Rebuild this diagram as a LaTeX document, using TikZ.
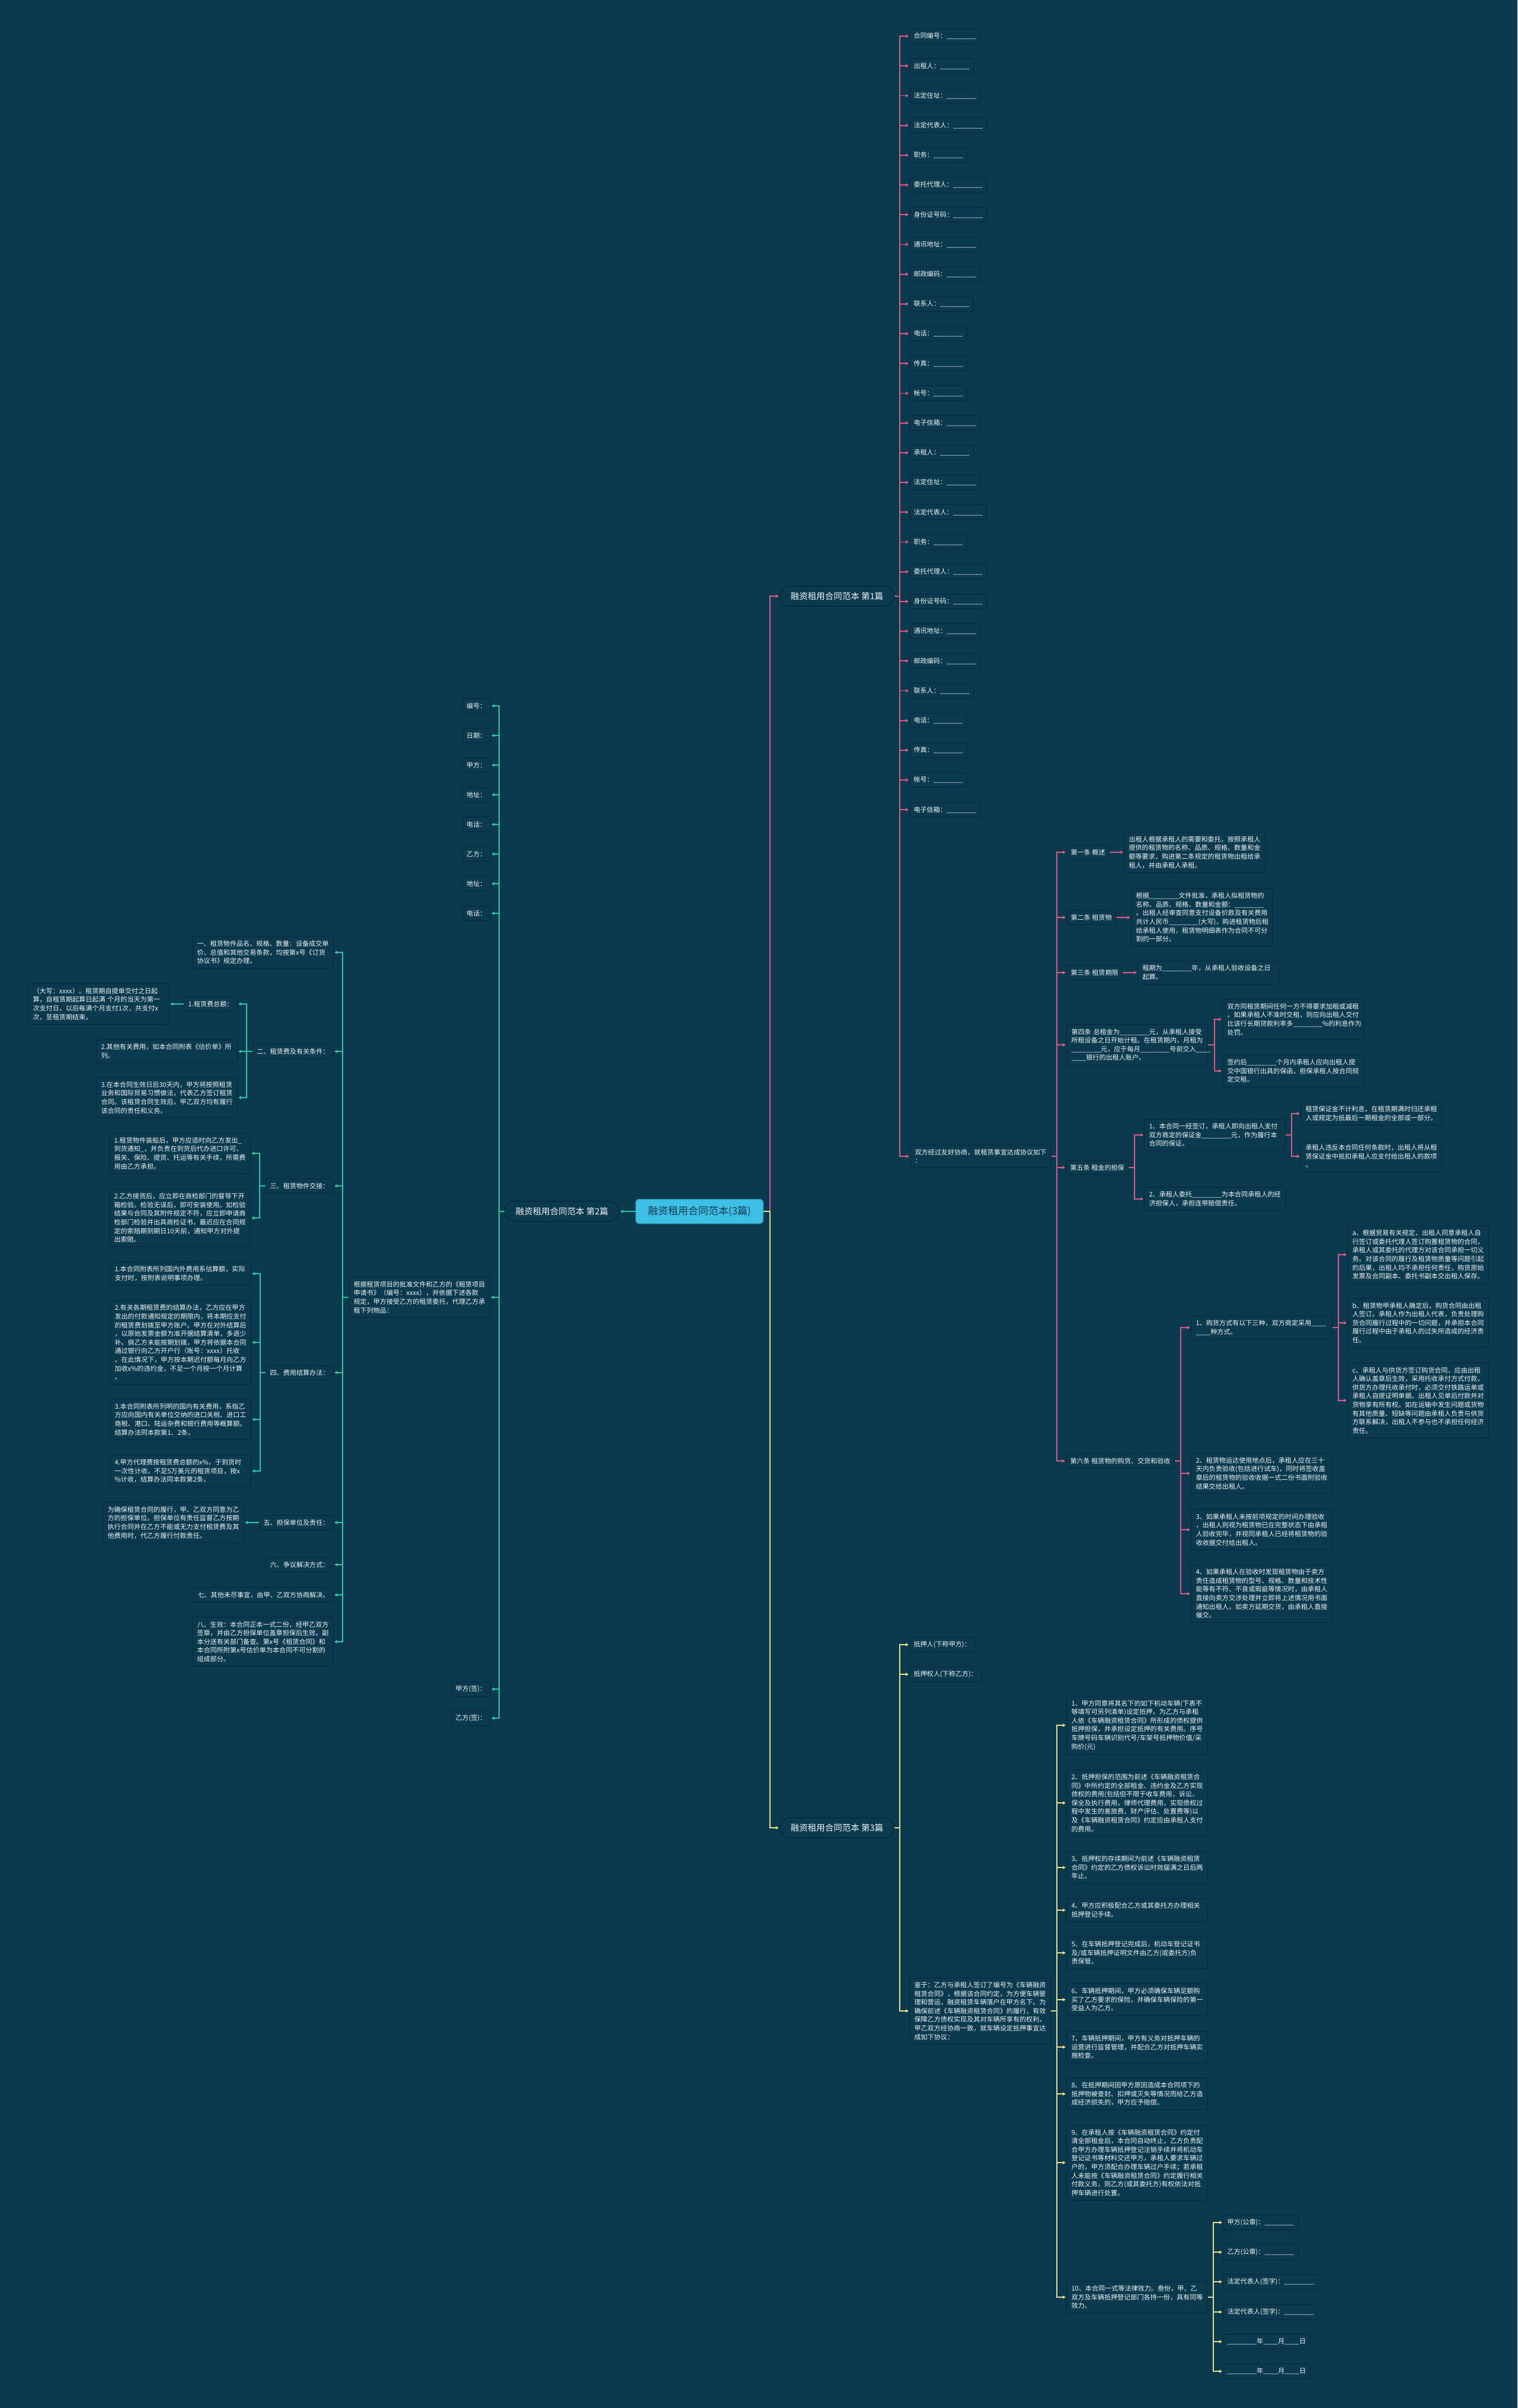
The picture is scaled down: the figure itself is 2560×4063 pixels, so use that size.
\documentclass[tikz,border=0pt]{standalone}
\usepackage{fontspec}
\newfontfamily\cjk{Noto Sans CJK SC}
\usepackage{tikz}
\usetikzlibrary{arrows.meta}

\definecolor{bg}{HTML}{0B3A4E}
\definecolor{nodeline}{HTML}{06283A}
\definecolor{txt}{HTML}{F2F5F6}
\definecolor{pinkc}{HTML}{DC5B86}
\definecolor{greenc}{HTML}{2DC7A2}
\definecolor{yellowc}{HTML}{EADF8C}
\definecolor{rootc}{HTML}{3DBFE6}

\newcommand\blankL{\_\_\_\_\_\_\_\_}
\newcommand\blankS{\_\_\_\_}

\tikzset{
  leaf/.style={draw=nodeline, fill=bg, rounded corners=3pt, line width=1pt, text=txt,
    font=\cjk\fontsize{11.1}{14.6}\selectfont, inner xsep=7pt, inner ysep=7pt, align=left},
  para/.style={leaf, inner xsep=8pt, text width=222pt},
  branch/.style={draw=nodeline, fill=bg, rounded corners=17pt, line width=1.5pt, text=txt,
    font=\cjk\fontsize{14.5}{17}\selectfont, minimum width=193pt, minimum height=34pt},
  rootnode/.style={draw=rootc!80!black, fill=rootc, rounded corners=6pt, line width=1.5pt, text=bg,
    font=\cjk\fontsize{17}{20}\selectfont, minimum width=215pt, minimum height=41pt},
  pk/.style={draw=pinkc, line width=1.8pt, ->, shorten >=1pt},
  gr/.style={draw=greenc, line width=1.8pt, ->, shorten >=1pt},
  yl/.style={draw=yellowc, line width=1.8pt, ->, shorten >=1pt}
}

\begin{document}
\begin{tikzpicture}[x=1pt,y=-1pt,>={Triangle[length=5pt,width=5pt]}]
\useasboundingbox (0,0) rectangle (2560,4063);
\fill[bg] (0,0) rectangle (2560,4063);

\node[rootnode] (root) at (1180,2044) {融资租用合同范本(3篇)};
\node[branch] (b1) at (1412,1006) {融资租用合同范本 第1篇};
\node[branch] (b2) at (948,2044) {融资租用合同范本 第2篇};
\node[branch] (b3) at (1412,3084) {融资租用合同范本 第3篇};
\draw[pk] (root.east) -- ++(11,0) |- (b1.west);
\draw[yl] (root.east) -- ++(11,0) |- (b3.west);
\draw[gr] (root.west) -- (b2.east);

% 第1篇
\foreach \lbl [count=\i] in {合同编号,出租人,法定住址,法定代表人,职务,委托代理人,身份证号码,通讯地址,邮政编码,联系人,电话,传真,帐号,电子信箱,承租人,法定住址,法定代表人,职务,委托代理人,身份证号码,通讯地址,邮政编码,联系人,电话,传真,帐号,电子信箱}{
  \node[leaf,anchor=west] (a\i) at (1534,{61+(\i-1)*50.2}) {\lbl：\blankL};
  \draw[pk] (b1.east) -- ++(9,0) |- (a\i.west);
}
\node[para,anchor=west] (agree) at (1535,1951) {双方经过友好协商，就租赁事宜达成协议如下\\：};
\draw[pk] (b1.east) -- ++(9,0) |- (agree.west);

\node[leaf,anchor=west] (s1) at (1799,1438) {第一条 概述};
\node[para,anchor=west] (s1t) at (1896,1438) {出租人根据承租人的需要和委托，按照承租人\\提供的租赁物的名称、品质、规格、数量和金\\额等要求，购进第二条规定的租赁物出租给承\\租人，并由承租人承租。};
\node[leaf,anchor=west] (s2) at (1799,1548) {第二条 租赁物};
\node[para,anchor=west] (s2t) at (1908,1548) {根据\blankL 文件批准，承租人拟租赁物的\\名称、品质、规格、数量和金额：\blankL\\。出租人经审查同意支付设备价款及有关费用\\共计人民币\blankL(大写)，购进租赁物后租\\给承租人使用，租赁物明细表作为合同不可分\\割的一部分。};
\node[leaf,anchor=west] (s3) at (1799,1641) {第三条 租赁期限};
\node[para,anchor=west] (s3t) at (1919,1641) {租期为\blankL 年，从承租人验收设备之日\\起算。};
\node[para,anchor=west] (s4) at (1799,1763) {第四条 总租金为\blankL 元，从承租人接受\\所租设备之日开始计租。在租赁期内，月租为\\\blankL 元，应于每月\blankL 号前交入\blankS\\\blankS 银行的出租人账户。};
\node[para,anchor=west] (s4a) at (2062,1720) {双方同租赁期间任何一方不得要求加租或减租\\。如果承租人不准时交租，则应向出租人交付\\比该行长期贷款利率多\blankL\%的利息作为\\处罚。};
\node[para,anchor=west] (s4b) at (2062,1807) {签约后\blankL 个月内承租人应向出租人提\\交中国银行出具的保函，担保承租人按合同规\\定交租。};
\node[leaf,anchor=west] (s5) at (1798,1970) {第五条 租金的担保};
\node[para,anchor=west] (s5a) at (1930,1915) {1、本合同一经签订，承租人即向出租人支付\\双方商定的保证金\blankL 元，作为履行本\\合同的保证。};
\node[para,anchor=west] (s5a1) at (2194,1879) {租赁保证金不计利息，在租赁期满时归还承租\\人或规定为抵最后一期租金的全部或一部分。};
\node[para,anchor=west] (s5a2) at (2194,1951) {承租人违反本合同任何条款时，出租人将从租\\赁保证金中抵扣承租人应支付给出租人的款项\\。};
\node[para,anchor=west] (s5b) at (1930,2023) {2、承租人委托\blankL 为本合同承租人的经\\济担保人，承担连带赔偿责任。};
\node[leaf,anchor=west] (s6) at (1798,2465) {第六条 租赁物的购货、交货和验收};
\node[para,anchor=west] (s6a) at (2009,2240) {1、购货方式有以下三种，双方商定采用\blankS\\\blankS 种方式。};
\node[para,anchor=west] (s6a1) at (2273,2117) {a、根据贸易有关规定，出租人同意承租人自\\行签订或委托代理人签订购置租赁物的合同，\\承租人或其委托的代理方对该合同承担一切义\\务。对该合同的履行及租赁物质量等问题引起\\的后果，出租人均不承担任何责任，购货原始\\发票及合同副本、委托书副本交出租人保存。};
\node[para,anchor=west] (s6a2) at (2273,2232) {b、租赁物甲承租人确定后，购货合同由出租\\人签订。承租人作为出租人代表，负责处理购\\货合同履行过程中的一切问题，并承担本合同\\履行过程中由于承租人的过失所造成的经济责\\任。};
\node[para,anchor=west] (s6a3) at (2273,2363) {c、承租人与供货方签订购货合同，应由出租\\人确认盖章后生效，采用托收承付方式付款，\\供货方办理托收承付时，必须交付铁路运单或\\承租人自提证明单据。出租人见单后付款并对\\货物享有所有权。如在运输中发生问题或货物\\有其他质量、短缺等问题由承租人负责与供货\\方联系解决，出租人不参与也不承担任何经济\\责任。};
\node[para,anchor=west] (s6b) at (2009,2486) {2、租赁物运达使用地点后，承租人应在三十\\天内负责验收(包括进行试车)，同时将签收盖\\章后的租赁物的验收收据一式二份书面附验收\\结果交给出租人。};
\node[para,anchor=west] (s6c) at (2009,2581) {3、如果承租人未按前项规定的时间办理验收\\，出租人则视为租赁物已在完整状态下由承租\\人验收完毕，并视同承租人已经将租赁物的验\\收收据交付给出租人。};
\node[para,anchor=west] (s6d) at (2009,2689) {4、如果承租人在验收时发现租赁物由于卖方\\责任造成租赁物的型号、规格、数量和技术性\\能等有不符、不良或瑕疵等情况时，由承租人\\直接向卖方交涉处理并立即将上述情况用书面\\通知出租人。如卖方延期交货，由承租人直接\\催交。};

\draw[pk] (s1.east) -- (s1t.west);
\draw[pk] (s2.east) -- (s2t.west);
\draw[pk] (s3.east) -- (s3t.west);
\foreach \n in {s1,s2,s3,s4,s5,s6}
  \draw[pk] (agree.east) -- ++(9,0) |- (\n.west);
\foreach \n in {s4a,s4b}
  \draw[pk] (s4.east) -- ++(11,0) |- (\n.west);
\foreach \n in {s5a,s5b}
  \draw[pk] (s5.east) -- ++(10,0) |- (\n.west);
\foreach \n in {s5a1,s5a2}
  \draw[pk] (s5a.east) -- ++(10,0) |- (\n.west);
\foreach \n in {s6a,s6b,s6c,s6d}
  \draw[pk] (s6.east) -- ++(10,0) |- (\n.west);
\foreach \n in {s6a1,s6a2,s6a3}
  \draw[pk] (s6a.east) -- ++(10,0) |- (\n.west);

% 第2篇
\foreach \lbl [count=\i] in {编号,日期,甲方,地址,电话,乙方,地址,电话}{
  \node[leaf,anchor=east] (m\i) at (828,{1191+(\i-1)*50}) {\lbl：};
  \draw[gr] (b2.west) -- ++(-9,0) |- (m\i.east);
}
\node[para,anchor=east] (basis) at (827,2189) {根据租赁项目的批准文件和乙方的《租赁项目\\申请书》（编号：xxxx），并依据下述各款\\规定，甲方接受乙方的租赁委托，代理乙方承\\租下列物品：};
\node[leaf,anchor=east] (signa) at (828,2850) {甲方(签)：};
\node[leaf,anchor=east] (signb) at (828,2899) {乙方(签)：};
\foreach \n in {basis,signa,signb}
  \draw[gr] (b2.west) -- ++(-9,0) |- (\n.east);

\node[para,anchor=east] (c1) at (563,1607) {一、租赁物件品名、规格、数量：设备成交单\\价、总值和其他交易条款，均按第x号《订货\\协议书》规定办理。};
\node[leaf,anchor=east] (c2) at (563,1774) {二、租赁费及有关条件：};
\node[leaf,anchor=east] (c2a) at (401,1694) {1.租赁费总额：};
\node[para,anchor=east] (c2a1) at (286,1694) {（大写：xxxx）。租赁期自提单交付之日起\\算，自租赁期起算日起满 个月的当天为第一\\次支付日，以后每满个月支付1次，共支付x\\次，至租赁期结束。};
\node[para,anchor=east] (c2b) at (401,1774) {2.其他有关费用，如本合同附表《估价单》所\\列。};
\node[para,anchor=east] (c2c) at (401,1852) {3.在本合同生效日后30天内，甲方将按照租赁\\业务和国际贸易习惯做法，代表乙方签订租赁\\合同。该租赁合同生效后，甲乙双方均有履行\\该合同的责任和义务。};
\node[leaf,anchor=east] (c3) at (563,2001) {三、租赁物件交接：};
\node[para,anchor=east] (c3a) at (423,1946) {1.租赁物件装船后，甲方应适时向乙方发出\_\\到货通知\_，并负责在到货后代办进口许可、\\报关、保险、提货、托运等有关手续，所需费\\用由乙方承担。};
\node[para,anchor=east] (c3b) at (423,2055) {2.乙方接货后，应立即在商检部门的督导下开\\箱检验。检验无误后，即可安装使用。如检验\\结果与合同及其附件规定不符，应立即申请商\\检部门检验并出具商检证书，最迟应在合同规\\定的索赔期到期日10天前，通知甲方对外提\\出索赔。};
\node[leaf,anchor=east] (c4) at (563,2316) {四、费用结算办法：};
\node[para,anchor=east] (c4a) at (424,2149) {1.本合同附表所列国内外费用系估算额，实际\\支付时，按附表说明事项办理。};
\node[para,anchor=east] (c4b) at (424,2265) {2.有关各期租赁费的结算办法，乙方应在甲方\\发出的付款通知规定的期限内，将本期应支付\\的租赁费划拨至甲方账户。甲方在对外结算后\\，以原始发票金额为准开据结算清单，多退少\\补。倘乙方未能按期划拨，甲方将依据本合同\\通过银行向乙方开户行（账号：xxxx）托收\\。在此情况下，甲方按本期迟付额每月向乙方\\加收x\%的违约金，不足一个月按一个月计算\\。};
\node[para,anchor=east] (c4c) at (424,2395) {3.本合同附表所列明的国内有关费用，系指乙\\方应向国内有关单位交纳的进口关税、进口工\\商税、港口、陆运杂费和银行费用等概算额。\\结算办法同本款第1、2条。};
\node[para,anchor=east] (c4d) at (424,2482) {4.甲方代理费按租赁费总额的x\%，于到货时\\一次性计收。不足5万美元的租赁项目，按x\\\%计收，结算办法同本款第2条。};
\node[leaf,anchor=east] (c5) at (563,2569) {五、担保单位及责任：};
\node[para,anchor=east] (c5a) at (412,2569) {为确保租赁合同的履行，甲、乙双方同意为乙\\方的担保单位。担保单位有责任监督乙方按期\\执行合同并在乙方不能或无力支付租赁费及其\\他费用时，代乙方履行付款责任。};
\node[leaf,anchor=east] (c6) at (563,2640) {六、争议解决方式：};
\node[leaf,anchor=east] (c7) at (563,2691) {七、其他未尽事宜，由甲、乙双方协商解决。};
\node[para,anchor=east] (c8) at (563,2770) {八、生效：本合同正本一式二份，经甲乙双方\\签章，并由乙方担保单位盖章担保后生效。副\\本分送有关部门备查。第x号《租赁合同》和\\本合同所附第x号估价单为本合同不可分割的\\组成部分。};

\foreach \n in {c1,c2,c3,c4,c5,c6,c7,c8}
  \draw[gr] (basis.west) -- ++(-10,0) |- (\n.east);
\foreach \n in {c2a,c2b,c2c}
  \draw[gr] (c2.west) -- ++(-10,0) |- (\n.east);
\draw[gr] (c2a.west) -- (c2a1.east);
\foreach \n in {c3a,c3b}
  \draw[gr] (c3.west) -- ++(-10,0) |- (\n.east);
\foreach \n in {c4a,c4b,c4c,c4d}
  \draw[gr] (c4.west) -- ++(-9,0) |- (\n.east);
\draw[gr] (c5.west) -- (c5a.east);

% 第3篇
\node[leaf,anchor=west] (p1) at (1534,2775) {抵押人(下称甲方)：};
\node[leaf,anchor=west] (p2) at (1534,2825) {抵押权人(下称乙方)：};
\node[para,anchor=west] (given) at (1534,3393) {鉴于：乙方与承租人签订了编号为《车辆融资\\租赁合同》，根据该合同约定，为方便车辆管\\理和营运，融资租赁车辆落户在甲方名下。为\\确保前述《车辆融资租赁合同》的履行，有效\\保障乙方债权实现及其对车辆所享有的权利，\\甲乙双方经协商一致，就车辆设定抵押事宜达\\成如下协议：};
\foreach \n in {p1,p2,given}
  \draw[yl] (b3.east) -- ++(9,0) |- (\n.west);

\node[para,anchor=west] (k1) at (1799,2911) {1、甲方同意将其名下的如下机动车辆(下表不\\够填写可另列清单)设定抵押，为乙方与承租\\人依《车辆融资租赁合同》所形成的债权提供\\抵押担保，并承担设定抵押的有关费用。序号\\车牌号码车辆识别代号/车架号抵押物价值/采\\购价(元)};
\node[para,anchor=west] (k2) at (1799,3042) {2、抵押担保的范围为前述《车辆融资租赁合\\同》中所约定的全部租金、违约金及乙方实现\\债权的费用(包括但不限于收车费用，诉讼、\\保全及执行费用，律师代理费用，实现债权过\\程中发生的差旅费、财产评估、处置费等)以\\及《车辆融资租赁合同》约定应由承租人支付\\的费用。};
\node[para,anchor=west] (k3) at (1799,3151) {3、抵押权的存续期间为前述《车辆融资租赁\\合同》约定的乙方债权诉讼时效届满之日后两\\年止。};
\node[para,anchor=west] (k4) at (1799,3223) {4、甲方应积极配合乙方或其委托方办理相关\\抵押登记手续。};
\node[para,anchor=west] (k5) at (1799,3295) {5、在车辆抵押登记完成后，机动车登记证书\\及/或车辆抵押证明文件由乙方(或委托方)负\\责保管。};
\node[para,anchor=west] (k6) at (1799,3374) {6、车辆抵押期间，甲方必须确保车辆足额购\\买了乙方要求的保险，并确保车辆保险的第一\\受益人为乙方。};
\node[para,anchor=west] (k7) at (1799,3454) {7、车辆抵押期间，甲方有义务对抵押车辆的\\运营进行监督管理，并配合乙方对抵押车辆实\\施检查。};
\node[para,anchor=west] (k8) at (1799,3533) {8、在抵押期间因甲方原因造成本合同项下的\\抵押物被查封、扣押或灭失等情况而给乙方造\\成经济损失的，甲方应予赔偿。};
\node[para,anchor=west] (k9) at (1799,3649) {9、在承租人按《车辆融资租赁合同》约定付\\清全部租金后，本合同自动终止，乙方负责配\\合甲方办理车辆抵押登记注销手续并将机动车\\登记证书等材料交还甲方，承租人要求车辆过\\户的，甲方须配合办理车辆过户手续；若承租\\人未能按《车辆融资租赁合同》约定履行相关\\付款义务，则乙方(或其委托方)有权依法对抵\\押车辆进行处置。};
\node[para,anchor=west] (k10) at (1799,3876) {10、本合同一式等法律效力。叁份，甲、乙\\双方及车辆抵押登记部门各持一份，具有同等\\效力。};
\foreach \n in {k1,k2,k3,k4,k5,k6,k7,k8,k9,k10}
  \draw[yl] (given.east) -- ++(10,0) |- (\n.west);

\node[leaf,anchor=west] (g1) at (2063,3750) {甲方(公章)：\blankL};
\node[leaf,anchor=west] (g2) at (2063,3800) {乙方(公章)：\blankL};
\node[leaf,anchor=west] (g3) at (2063,3850) {法定代表人(签字)：\blankL};
\node[leaf,anchor=west] (g4) at (2063,3901) {法定代表人(签字)：\blankL};
\node[leaf,anchor=west] (g5) at (2063,3951) {\blankL 年\blankS 月\blankS 日};
\node[leaf,anchor=west] (g6) at (2063,4001) {\blankL 年\blankS 月\blankS 日};
\foreach \n in {g1,g2,g3,g4,g5,g6}
  \draw[yl] (k10.east) -- ++(9,0) |- (\n.west);
\end{tikzpicture}
\end{document}
